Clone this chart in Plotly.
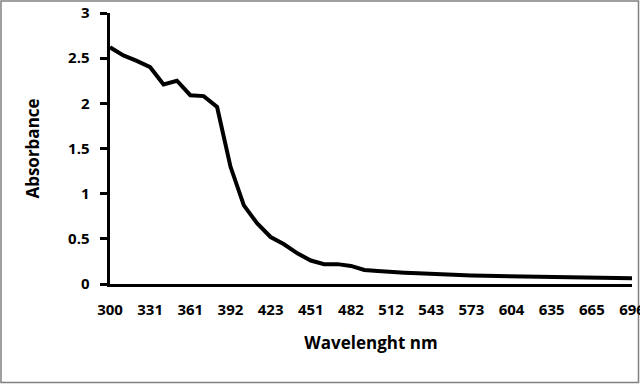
import plotly.graph_objects as go

wavelengths = [300, 310, 320, 331, 341, 351, 361, 371, 382, 392,
               402, 413, 423, 432, 442, 451, 461, 472, 482, 492,
               502, 512, 522, 533, 543, 553, 563, 573, 583, 594,
               604, 614, 624, 635, 645, 655, 665, 675, 686, 696]
absorbance = [2.62, 2.53, 2.47, 2.40, 2.21, 2.25, 2.09, 2.08, 1.96, 1.30,
              0.87, 0.67, 0.52, 0.44, 0.34, 0.26, 0.22, 0.22, 0.20, 0.155,
              0.144, 0.13, 0.125, 0.118, 0.11, 0.105, 0.10, 0.095, 0.09, 0.088,
              0.085, 0.082, 0.08, 0.078, 0.075, 0.073, 0.07, 0.068, 0.066, 0.063]
tick_labels = [str(w) for w in wavelengths[::3]]
y_ticks = [0, 0.5, 1, 1.5, 2, 2.5, 3]

cats = [str(w) for w in wavelengths]

fig = go.Figure(go.Scatter(x=cats, y=absorbance, mode="lines",
                           line=dict(color="black", width=4), hoverinfo="skip"))

L, R, T, B = 110, 8, 13, 100
W, H = 640, 384
pw, ph = W - L - R, H - T - B

FAM = "'Open Sans', sans-serif"
font_tick = dict(family=FAM, size=15, color="black", weight="bold")
font_title = dict(family=FAM, size=17, color="black", weight="bold")
fig.update_layout(
    width=W, height=H, margin=dict(l=L, r=R, t=T, b=B, autoexpand=False),
    paper_bgcolor="white", plot_bgcolor="white", showlegend=False,
    xaxis=dict(type="category", range=[0, len(cats) - 1], automargin=False,
               tickvals=cats[::3], ticktext=tick_labels,
               showgrid=False, zeroline=False, showline=True,
               linecolor="black", linewidth=3, ticks="",
               tickfont=font_tick, ticklabelstandoff=10,
               title=dict(text="Wavelenght nm", font=font_title, standoff=20)),
    yaxis=dict(range=[0, 3], tickvals=y_ticks,
               ticktext=[f"{v:g}\u2002" for v in y_ticks],
               automargin=False,
               showgrid=False, zeroline=False, showline=True,
               linecolor="black", linewidth=3, ticks="outside", ticklen=7,
               tickwidth=3, tickcolor="black", tickfont=font_tick,
               title=dict(text="Absorbance", font=font_title, standoff=25)),
    shapes=[dict(type="rect", xref="paper", yref="paper",
                 x0=(1 - L) / pw, x1=(W - 1.5 - L) / pw,
                 y0=-(B - 1.5) / ph, y1=1 + (T - 1) / ph,
                 line=dict(color="#808080", width=1.5), layer="below")],
)

fig.write_html("out.html", config={"displayModeBar": False},
               post_script="document.body.style.margin='0';document.body.style.overflow='hidden';")
